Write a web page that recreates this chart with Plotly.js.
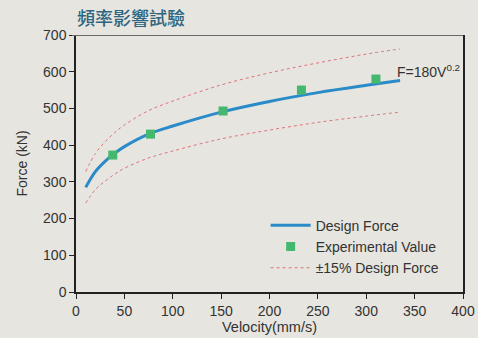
<!DOCTYPE html>
<html>
<head>
<meta charset="utf-8">
<script src="https://cdn.plot.ly/plotly-3.0.1.min.js"></script>
<style>
html,body{margin:0;padding:0;background:#e6e5df;}
#chart{width:478px;height:338px;}
</style>
</head>
<body>
<div id="chart"></div>
<script>
const velocity = [10, 20, 30, 40, 50, 75, 100, 150, 200, 250, 300, 335];
const designForce = [285, 328, 356, 378, 396, 430, 452, 490, 519, 543, 563, 576];
const upperForce = [328, 377, 409, 434, 455, 494, 520, 564, 597, 624, 648, 662];
const lowerForce = [242, 279, 302, 321, 337, 365, 384, 417, 441, 462, 479, 490];
const expVelocity = [38, 77, 152, 233, 310];
const expForce = [373, 430, 493, 550, 580];
const xTicks = [0, 50, 100, 150, 200, 250, 300, 350, 400];
const yTicks = [0, 100, 200, 300, 400, 500, 600, 700];

const traces = [
  {x: velocity, y: designForce, mode: 'lines', name: 'Design Force',
   line: {color: '#2a8bc8', width: 3, shape: 'spline'}},
  {x: expVelocity, y: expForce, mode: 'markers', name: 'Experimental Value',
   marker: {color: '#45b86f', size: 9, symbol: 'square'}},
  {x: velocity, y: upperForce, mode: 'lines', name: '±15% Design Force',
   line: {color: '#e0727a', width: 1, dash: 'dot', shape: 'spline'}},
  {x: velocity, y: lowerForce, mode: 'lines', name: '±15% Design Force', showlegend: false,
   line: {color: '#e0727a', width: 1, dash: 'dot', shape: 'spline'}}
];

const layout = {
  width: 478, height: 338,
  margin: {l: 76, r: 15, t: 35, b: 46},
  paper_bgcolor: '#e6e5df', plot_bgcolor: '#e6e5df',
  font: {family: 'Liberation Sans, Arial, sans-serif', size: 14, color: '#333'},
  title: {text: '頻率影響試驗', x: 77/478, xanchor: 'left', y: 0.945, yanchor: 'middle',
          font: {family: 'Noto Sans CJK TC, sans-serif', size: 18, color: '#2e6580', weight: 500}},
  xaxis: {range: [0, 400], tickvals: xTicks, ticks: 'outside', ticklen: 5, tickcolor: '#222',
          showline: true, linecolor: '#222', linewidth: 1.5, showgrid: false, zeroline: false,
          tickfont: {size: 14},
          title: {text: 'Velocity(mm/s)', standoff: 4, font: {size: 14.5, color: '#333'}}},
  yaxis: {range: [0, 700], tickvals: yTicks, ticks: 'outside', ticklen: 5, tickcolor: '#222',
          showline: true, linecolor: '#222', linewidth: 1.5, mirror: true, showgrid: false, zeroline: false,
          tickfont: {size: 14},
          title: {text: 'Force (kN)', standoff: 12, font: {size: 14, color: '#333'}}},
  legend: {x: 0.49, y: 0.32, xanchor: 'left', yanchor: 'top', bgcolor: 'rgba(0,0,0,0)',
           font: {size: 14, color: '#333'}, tracegroupgap: 0, itemwidth: 40},
  shapes: [{type: 'line', xref: 'paper', yref: 'y', x0: -0.01, x1: 1, y0: 700, y1: 700,
            line: {color: '#6a6a6a', width: 2}}],
  annotations: [{x: 330, y: 602, xref: 'x', yref: 'y', xanchor: 'left', yanchor: 'middle',
                 text: 'F=180V<sup>0.2</sup>', showarrow: false, font: {size: 14, color: '#333'}}]
};

Plotly.newPlot('chart', traces, layout, {displayModeBar: false});
</script>
</body>
</html>
